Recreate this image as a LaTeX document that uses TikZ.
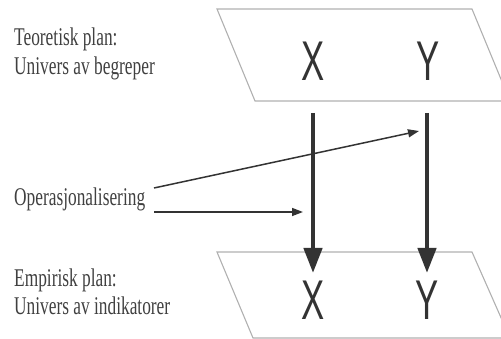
\documentclass[tikz,border=0pt]{standalone}
\usepackage{fontspec}
\setmainfont{Liberation Serif}[FakeStretch=0.68]
\newfontfamily\varfont{Liberation Sans}[FakeStretch=0.62]
\usetikzlibrary{arrows.meta}
\definecolor{txtgray}{HTML}{404040}
\definecolor{planegray}{HTML}{B0B0B0}
\definecolor{arrowgray}{HTML}{333333}
\begin{document}
\begin{tikzpicture}[x=1pt,y=-1pt,
  lbl/.style={font=\fontsize{25.5}{29}\selectfont, text=txtgray, anchor=base west, inner sep=0pt},
  var/.style={font=\varfont\fontsize{56}{60}\selectfont, text=arrowgray, inner sep=0pt},
  plane/.style={draw=planegray, line width=1.1pt},
  bigarrow/.style={draw=arrowgray, line width=4.5pt, -{Triangle[length=25pt,width=18pt]}},
  thinarrow/.style={draw=arrowgray, line width=1.5pt, -{Triangle[length=11pt,width=8pt]}}]
\useasboundingbox (0,0) rectangle (501,339);
\clip (0,0) rectangle (501,339);
% planes
\draw[plane] (217,9) -- (472,9) -- (510,101) -- (255,101) -- cycle;
\draw[plane] (217,252) -- (472,252) -- (510,338) -- (253,338) -- cycle;
% labels
\node[lbl] (teo1) at (14,46) {Teoretisk plan:};
\node[lbl] (teo2) at (14,75) {Univers av begreper};
\node[lbl] (op) at (14,206) {Operasjonalisering};
\node[lbl] (emp1) at (14,287) {Empirisk plan:};
\node[lbl] (emp2) at (14,315) {Univers av indikatorer};
% variables
\node[var] (xt) at (313,61) {X};
\node[var] (yt) at (428,61) {Y};
\node[var] (xb) at (313,300) {X};
\node[var] (yb) at (427,300) {Y};
% vertical arrows
\coordinate (xs) at (313,113);
\coordinate (xe) at (313,273);
\coordinate (ys) at (427,113);
\coordinate (ye) at (427,273);
\draw[bigarrow] (xs) -- (xe);
\draw[bigarrow] (ys) -- (ye);
% operationalisation arrows
\coordinate (o1) at (154,188);
\coordinate (t1) at (419,131);
\coordinate (o2) at (154,212);
\coordinate (t2) at (303,212);
\draw[thinarrow] (o1) -- (t1);
\draw[thinarrow] (o2) -- (t2);
\end{tikzpicture}
\end{document}
